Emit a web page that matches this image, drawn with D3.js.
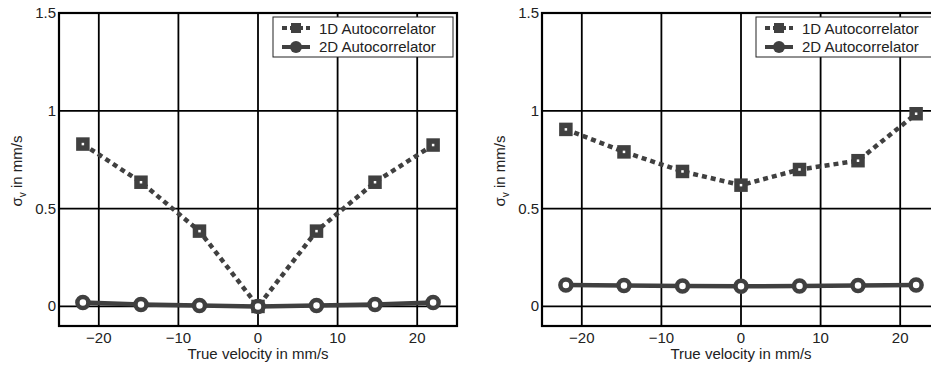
<!DOCTYPE html>
<meta charset="utf-8">
<style>
body { margin: 0; background: #fff; }
svg { display: block; font-family: "Liberation Sans", Arial, sans-serif; }
</style>
<svg></svg>
<script src="https://cdn.jsdelivr.net/npm/d3@7"></script>
<script>

var width = 931, height = 365;

// shared x positions (true velocity, mm/s)
var velocity = [-22, -14.7, -7.35, 0, 7.35, 14.7, 22];

// left panel
var left1D = [0.83, 0.635, 0.385, 0.0, 0.385, 0.635, 0.825];
var left2D = [0.02, 0.01, 0.005, 0.0, 0.005, 0.01, 0.02];

// right panel
var right1D = [0.905, 0.79, 0.69, 0.62, 0.70, 0.745, 0.985];
var right2D = [0.11, 0.107, 0.105, 0.103, 0.105, 0.107, 0.11];

var xTicks = [-20, -10, 0, 10, 20];
var yTicks = [0, 0.5, 1, 1.5];
var seriesNames = ["1D Autocorrelator", "2D Autocorrelator"];

var ink = "#404040";
var fs = 15;

var svg = d3.select("svg")
    .attr("width", width)
    .attr("height", height);

function panel(x0, x1, s1, s2) {
  var x = d3.scaleLinear().domain([-25, 25]).range([x0, x1]);
  var y = d3.scaleLinear().domain([-0.1, 1.5]).range([326, 13]);

  var g = svg.append("g");

  // grid
  g.selectAll(".vgrid").data(xTicks).enter().append("line")
    .attr("x1", function(d) { return x(d); }).attr("x2", function(d) { return x(d); })
    .attr("y1", y(-0.1)).attr("y2", y(1.5))
    .attr("stroke", "#000").attr("stroke-width", 1.8);
  g.selectAll(".hgrid").data([0, 0.5, 1]).enter().append("line")
    .attr("x1", x0).attr("x2", x1)
    .attr("y1", function(d) { return y(d); }).attr("y2", function(d) { return y(d); })
    .attr("stroke", "#000").attr("stroke-width", 1.8);

  // frame
  g.append("rect")
    .attr("x", x0).attr("y", y(1.5))
    .attr("width", x1 - x0).attr("height", y(-0.1) - y(1.5))
    .attr("fill", "none").attr("stroke", "#000").attr("stroke-width", 2.2);

  // tick labels
  g.selectAll(".xt").data(xTicks).enter().append("text")
    .attr("x", function(d) { return x(d); }).attr("y", 343)
    .attr("text-anchor", "middle").attr("font-size", fs).attr("fill", "#222")
    .text(function(d) { return d < 0 ? "\u2212" + (-d) : d; });
  g.selectAll(".yt").data(yTicks).enter().append("text")
    .attr("x", x0 - 3).attr("y", function(d) { return y(d) + 5; })
    .attr("text-anchor", "end").attr("font-size", fs).attr("fill", "#222")
    .text(function(d) { return d; });

  // axis labels
  g.append("text")
    .attr("x", x0 + 199).attr("y", 359)
    .attr("text-anchor", "middle").attr("font-size", fs).attr("fill", "#222")
    .text("True velocity in mm/s");
  var yl = g.append("text")
    .attr("transform", "translate(" + (x0 - 37) + ",171) rotate(-90)")
    .attr("text-anchor", "middle").attr("font-size", fs).attr("fill", "#222");
  yl.append("tspan").text("\u03c3");
  yl.append("tspan").attr("font-size", 10).attr("dy", 4).text("v");
  yl.append("tspan").attr("dy", -4).text(" in mm/s");

  var line = d3.line()
    .x(function(d, i) { return x(velocity[i]); })
    .y(function(d) { return y(d); });

  // 1D series
  g.append("path").datum(s1)
    .attr("d", line).attr("fill", "none")
    .attr("stroke", ink).attr("stroke-width", 4.5).attr("stroke-dasharray", "5,4");
  g.selectAll(".sq").data(s1).enter().append("rect")
    .attr("x", function(d, i) { return x(velocity[i]) - 4; })
    .attr("y", function(d) { return y(d) - 4; })
    .attr("width", 8).attr("height", 8)
    .attr("fill", "#fff").attr("stroke", ink).attr("stroke-width", 5.5);

  // 2D series
  g.append("path").datum(s2)
    .attr("d", line).attr("fill", "none")
    .attr("stroke", ink).attr("stroke-width", 4.5);
  g.selectAll(".ci").data(s2).enter().append("circle")
    .attr("cx", function(d, i) { return x(velocity[i]); })
    .attr("cy", function(d) { return y(d); })
    .attr("r", 5.5)
    .attr("fill", "#fff").attr("stroke", ink).attr("stroke-width", 4.5);

  // legend
  var lx = x1 - 184;
  var lg = g.append("g");
  lg.append("rect")
    .attr("x", lx).attr("y", 17).attr("width", 180).attr("height", 40)
    .attr("fill", "#fff").attr("stroke", "#222").attr("stroke-width", 1);
  lg.append("line")
    .attr("x1", lx + 9).attr("x2", lx + 37).attr("y1", 28).attr("y2", 28)
    .attr("stroke", ink).attr("stroke-width", 4).attr("stroke-dasharray", "5,3");
  lg.append("rect")
    .attr("x", lx + 18).attr("y", 23).attr("width", 10).attr("height", 10)
    .attr("fill", ink);
  lg.append("line")
    .attr("x1", lx + 9).attr("x2", lx + 37).attr("y1", 47).attr("y2", 47)
    .attr("stroke", ink).attr("stroke-width", 4);
  lg.append("circle")
    .attr("cx", lx + 23).attr("cy", 47).attr("r", 6).attr("fill", ink);
  lg.selectAll(".lt").data(seriesNames).enter().append("text")
    .attr("x", lx + 46).attr("y", function(d, i) { return 34 + i * 18; })
    .attr("font-size", fs).attr("fill", "#222")
    .text(function(d) { return d; });
}

panel(59, 457, left1D, left2D);
panel(542, 940, right1D, right2D);

</script>
